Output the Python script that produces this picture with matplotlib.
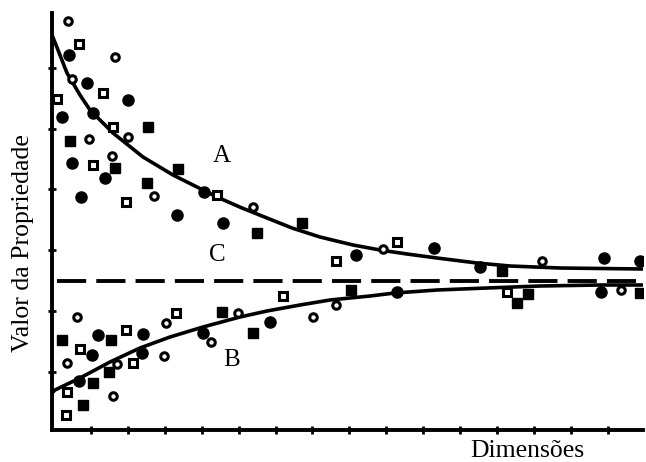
import numpy as np
import matplotlib.pyplot as plt

plt.rcParams['font.family'] = ['Liberation Serif', 'DejaVu Serif']

# curve A (decreasing) and B (increasing)
curve_x_a = [0, 6, 15, 28, 38, 61, 91, 121, 165, 190, 215, 240, 268, 301, 328, 355, 385, 425, 458, 508, 591]
curve_y_a = [395, 380, 357, 335, 320, 297, 273, 255, 233, 222, 212, 202, 193, 185, 180, 176, 172, 167, 164, 162, 161]
curve_x_b = [0, 3, 28, 58, 88, 118, 151, 188, 215, 248, 278, 318, 343, 385, 435, 488, 548, 591]
curve_y_b = [37, 40, 52, 68, 82, 93, 103, 113, 119, 125, 130, 134, 137, 140, 142, 144, 145, 145]
# constant C
c_value = 149

# measured points, four kinds of marker
filled_circle_x = [17, 35, 76, 10, 41, 20, 53, 29, 125, 152, 171, 304, 382, 428, 552, 588,
                   46, 91, 40, 90, 27, 151, 218, 345, 549]
filled_circle_y = [375, 347, 330, 313, 317, 267, 252, 233, 215, 238, 207, 175, 182, 163, 172, 169,
                   95, 96, 75, 77, 49, 97, 108, 138, 138]
open_circle_x = [16, 63, 20, 37, 76, 60, 102, 201, 331, 490,
                 25, 114, 186, 261, 159, 15, 65, 112, 61, 284, 569]
open_circle_y = [409, 373, 351, 291, 293, 274, 234, 223, 181, 169,
                 113, 107, 117, 113, 88, 67, 66, 74, 34, 125, 140]
open_square_x = [27, 51, 5, 61, 41, 74, 165, 284, 345,
                 74, 124, 231, 28, 81, 15, 14, 455]
open_square_y = [386, 337, 331, 303, 265, 228, 235, 169, 188,
                 100, 117, 134, 81, 67, 38, 15, 138]
filled_square_x = [96, 18, 63, 126, 95, 205, 250, 450,
                   10, 59, 170, 201, 299, 57, 41, 31, 476, 465, 588]
filled_square_y = [303, 289, 262, 261, 247, 197, 207, 159,
                   90, 90, 118, 97, 140, 58, 47, 25, 136, 127, 137]

fig = plt.figure(figsize=(6.46, 4.62), dpi=100)
ax = fig.add_axes([52 / 646, 32 / 462, 591 / 646, 417 / 462])

ax.plot(curve_x_a, curve_y_a, color='black', lw=2.6, solid_joinstyle='round')
ax.plot(curve_x_b, curve_y_b, color='black', lw=2.6, solid_joinstyle='round')
ax.axhline(c_value, xmin=0.008, xmax=1, color='black', lw=2.8, linestyle=(0, (7.5, 2.6)))

ax.plot(filled_circle_x, filled_circle_y, 'o', color='black', ms=8, ls='none')
ax.plot(open_circle_x, open_circle_y, 'o', mfc='white', mec='black', mew=2.2, ms=5.4, ls='none')
ax.plot(open_square_x, open_square_y, 's', mfc='white', mec='black', mew=2.2, ms=5.2, ls='none')
ax.plot(filled_square_x, filled_square_y, 's', color='black', ms=7, ls='none')

ax.text(170, 274, 'A', fontsize=18, ha='center', va='center')
ax.text(165, 175, 'C', fontsize=18, ha='center', va='center')
ax.text(180, 70, 'B', fontsize=18, ha='center', va='center')

ax.set_xlim(0, 591)
ax.set_ylim(0, 417)
ax.set_xticks(np.arange(39, 592, 36.9))
ax.set_yticks([58, 119, 180, 241, 301, 362])
ax.set_xticklabels([])
ax.set_yticklabels([])
ax.tick_params(direction='inout', length=6, width=2, color='black')
for side in ['top', 'right']:
    ax.spines[side].set_visible(False)
for side in ['left', 'bottom']:
    ax.spines[side].set_linewidth(2.8)

fig.text(527 / 646, 1 - 451 / 462, 'Dimensões', fontsize=18.5, ha='center', va='center')
fig.text(23 / 646, 1 - 243 / 462, 'Valor da Propriedade', fontsize=18.5, rotation=90,
         ha='center', va='center')

fig.savefig('out.png', dpi=100)
